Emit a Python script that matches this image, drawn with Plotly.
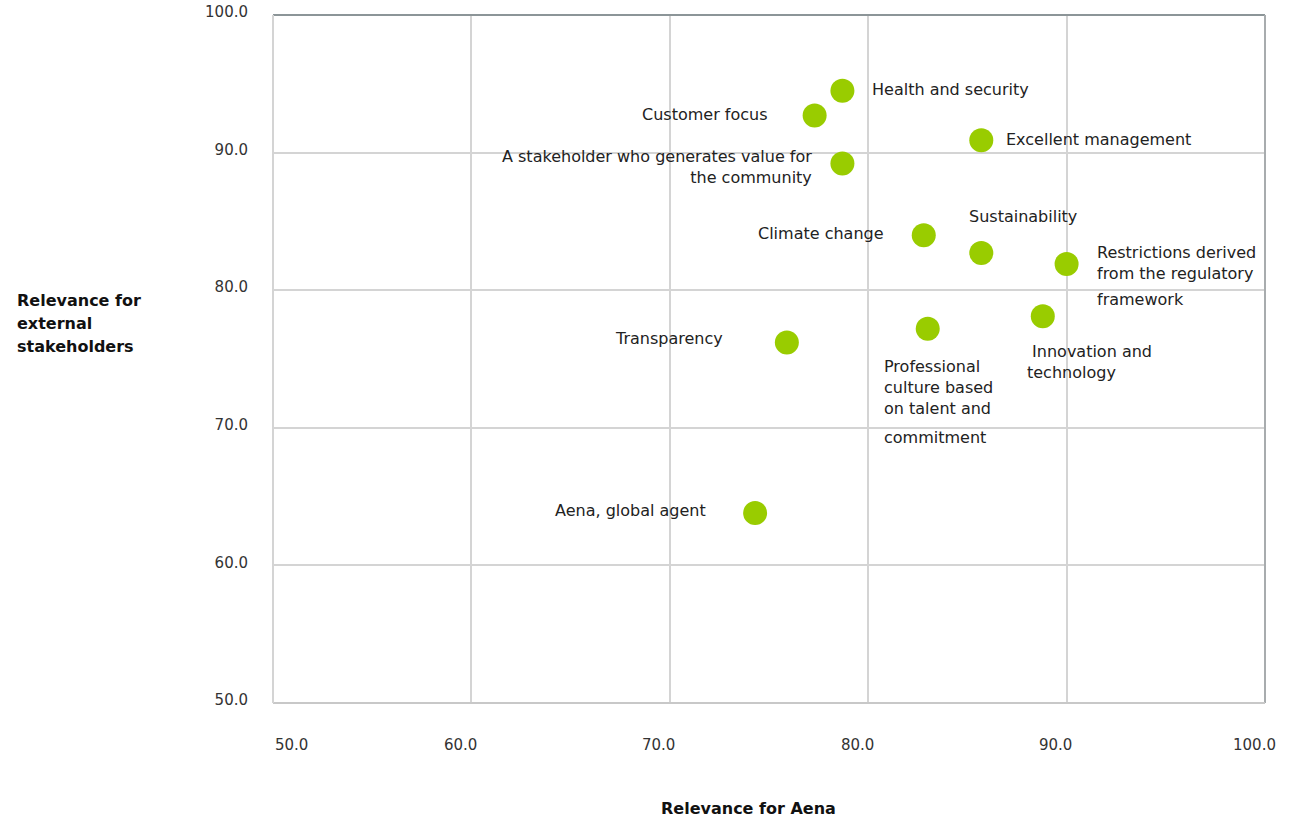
import plotly.graph_objects as go

# ---- data ----
topics = [
    "Health and security",
    "Customer focus",
    "Excellent management",
    "A stakeholder who generates value for<br>the community",
    "Climate change",
    "Sustainability",
    "Restrictions derived<br>from the regulatory",
    " Innovation and<br>technology",
    "Professional<br>culture based<br>on talent and",
    "Transparency",
    "Aena, global agent",
]
relevance_aena = [78.7, 77.3, 85.7, 78.7, 82.8, 85.7, 90.0, 88.8, 83.0, 75.9, 74.3]
relevance_external = [94.5, 92.7, 90.9, 89.2, 84.0, 82.7, 81.9, 78.1, 77.2, 76.2, 63.8]
# extra trailing lines of some labels (drawn as separate lines in the original)
extra_lines = {6: "framework", 8: "commitment"}

x_ticks = [50, 60, 70, 80, 90, 100]
y_ticks = [50, 60, 70, 80, 90, 100]
x_tick_labels = ["50.0", "60.0", "70.0", "80.0", "90.0", "100.0"]
y_tick_labels = ["50.0", "60.0", "70.0", "80.0", "90.0", "100.0"]

# ---- label placement styles (pixel offsets from each point) ----
label_style = [
    dict(xanchor="left", xshift=28, yshift=1),
    dict(xanchor="right", xshift=-45, yshift=1),
    dict(xanchor="left", xshift=23, yshift=1),
    dict(xanchor="right", xshift=-28, yshift=-3, align="right"),
    dict(xanchor="right", xshift=-38, yshift=2),
    dict(xanchor="left", xshift=-14, yshift=37),
    dict(xanchor="left", xshift=28, yshift=1, align="left"),
    dict(xanchor="left", xshift=-18, yshift=-46, align="left"),
    dict(xanchor="left", xshift=-46, yshift=-59, align="left"),
    dict(xanchor="right", xshift=-62, yshift=4),
    dict(xanchor="right", xshift=-47, yshift=3),
]
extra_style = {
    6: dict(xanchor="left", xshift=28, yshift=-35),
    8: dict(xanchor="left", xshift=-46, yshift=-109),
}

LABEL_FONT = dict(family="DejaVu Sans, sans-serif", size=16, color="#222222")
TICK_FONT = dict(family="DejaVu Sans, sans-serif", size=15, color="#333333")
TITLE_FONT = dict(family="DejaVu Sans, sans-serif", size=16, color="#111111", weight="bold")
GRID = "#d4d4d4"

fig = go.Figure()
fig.add_trace(go.Scatter(
    x=relevance_aena, y=relevance_external, mode="markers",
    marker=dict(size=24, color="#99cc00", line=dict(width=0)),
    hoverinfo="skip", showlegend=False,
))

annotations = []
for i, t in enumerate(topics):
    st = label_style[i]
    annotations.append(dict(
        x=relevance_aena[i], y=relevance_external[i], xref="x", yref="y",
        text=t, showarrow=False, font=LABEL_FONT, yanchor="middle", **st))
for i, t in extra_lines.items():
    annotations.append(dict(
        x=relevance_aena[i], y=relevance_external[i], xref="x", yref="y",
        text=t, showarrow=False, font=LABEL_FONT, yanchor="middle", **extra_style[i]))

# x tick labels (drawn below the plot, nudged as in the original)
for i, (v, lab) in enumerate(zip(x_ticks, x_tick_labels)):
    annotations.append(dict(
        x=v, y=0, xref="x", yref="paper", text=lab, showarrow=False,
        font=TICK_FONT, yanchor="middle",
        xanchor="left" if i == 0 else "center",
        xshift=0 if i == 0 else -11, yshift=-42))

# axis titles (one line each, as spaced in the original)
for k, line in enumerate(["Relevance for", "external", "stakeholders"]):
    annotations.append(dict(
        x=-258 / 992, y=1 - (300 + 23 * k - 15) / 688, xref="paper", yref="paper",
        text=line, showarrow=False, xanchor="left", yanchor="middle",
        font=TITLE_FONT))
annotations.append(dict(
    x=(748 - 273) / 992, y=0, xref="paper", yref="paper",
    text="Relevance for Aena", showarrow=False, xanchor="center", yanchor="middle",
    yshift=-105, font=TITLE_FONT))

shapes = [
    dict(type="line", xref="paper", yref="paper", x0=0, x1=1, y0=1, y1=1,
         line=dict(color="#8c9598", width=2)),
    dict(type="line", xref="paper", yref="paper", x0=1, x1=1, y0=0, y1=1,
         line=dict(color="#a8acae", width=2)),
    dict(type="line", xref="paper", yref="paper", x0=0, x1=1, y0=0, y1=0,
         line=dict(color="#c8c8c8", width=2)),
    dict(type="line", xref="paper", yref="paper", x0=0, x1=0, y0=0, y1=1,
         line=dict(color="#d4d4d4", width=2)),
]

fig.update_layout(
    width=1303, height=819,
    margin=dict(l=273, r=38, t=15, b=116),
    plot_bgcolor="white", paper_bgcolor="white",
    xaxis=dict(range=[50, 100], tickvals=x_ticks, showticklabels=False,
               showgrid=True, gridcolor=GRID, gridwidth=2, zeroline=False,
               showline=False, fixedrange=True, automargin=False),
    yaxis=dict(range=[50, 100], tickvals=y_ticks, ticktext=y_tick_labels,
               showgrid=True, gridcolor=GRID, gridwidth=2, zeroline=False,
               showline=False, tickfont=TICK_FONT, ticklabelstandoff=24,
               ticklabelshift=-3, fixedrange=True, automargin=False),
    annotations=annotations,
    shapes=shapes,
)

fig.write_html("out.html")
